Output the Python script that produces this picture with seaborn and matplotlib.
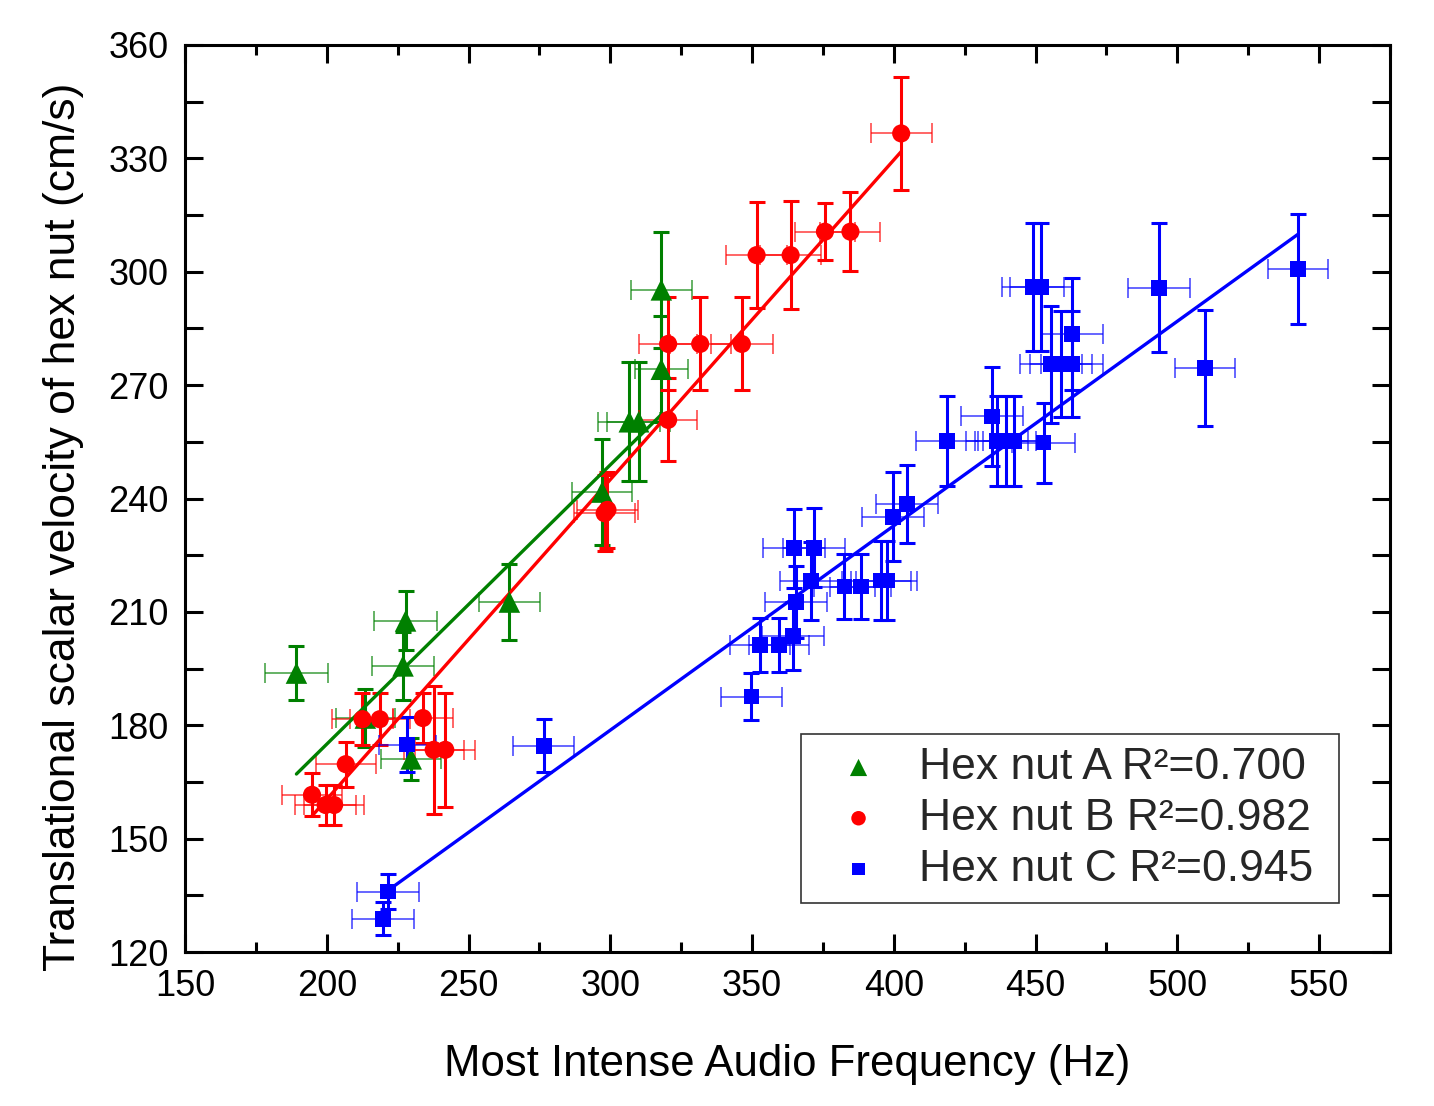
import numpy as np
import pandas as pd
import matplotlib
matplotlib.use("Agg")
import matplotlib.pyplot as plt
from matplotlib.ticker import MultipleLocator
import seaborn as sns

# ---------------- data ----------------
a_x = [189.3, 213.6, 226.9, 227.8, 229.8, 264.4, 297.1, 306.7, 310.0, 318.0, 318.0]
a_y = [193.8, 181.9, 195.7, 207.6, 171.1, 212.6, 241.7, 260.3, 260.3, 274.2, 295.2]
a_xerr = [11.0, 10.5, 11.0, 11.0, 10.5, 10.7, 10.7, 11.0, 11.0, 9.4, 10.8]
a_yerr = [7.2, 7.7, 9.0, 7.8, 5.5, 10.0, 14.0, 15.7, 15.7, 14.0, 15.3]

b_x = [194.8, 199.6, 202.6, 206.7, 212.6, 218.7, 233.9, 237.7, 241.8, 298.0,
       299.0, 320.4, 320.4, 331.7, 346.4, 351.6, 363.6, 375.7, 384.7, 402.6]
b_y = [161.6, 158.9, 158.9, 169.7, 181.6, 181.6, 181.9, 173.5, 173.5, 236.1,
       237.0, 260.8, 280.9, 280.9, 280.9, 304.4, 304.4, 310.6, 310.6, 336.6]
b_xerr = [10.7, 10.7, 10.7, 10.6, 10.6, 10.6, 10.6, 10.6, 10.6, 10.7,
          10.7, 10.2, 10.2, 10.7, 11.0, 10.7, 10.7, 10.6, 10.6, 10.7]
b_yerr = [5.7, 5.4, 5.4, 6.0, 6.9, 6.9, 6.6, 17.0, 15.0, 10.0,
          10.0, 11.0, 12.3, 12.3, 12.3, 14.0, 14.3, 7.5, 10.5, 15.0]

c_x = [219.9, 221.6, 228.4, 276.5, 349.8, 352.7, 359.5, 364.5, 365.6, 364.8,
       371.8, 370.9, 382.6, 388.3, 395.5, 397.5, 399.6, 404.7, 418.8, 434.6,
       436.4, 439.4, 442.3, 452.8, 449.0, 451.8, 455.3, 459.0, 462.8, 462.8,
       493.5, 509.7, 542.6]
c_y = [128.8, 136.0, 174.9, 174.6, 187.6, 201.3, 201.3, 203.7, 212.6, 226.8,
       227.0, 218.2, 216.7, 216.7, 218.3, 218.3, 235.2, 238.5, 255.2, 261.7,
       255.2, 255.2, 255.2, 254.8, 295.9, 295.9, 275.5, 275.5, 275.5, 283.5,
       295.8, 274.6, 300.7]
c_xerr = [10.9, 10.9, 10.0, 10.7, 10.6, 10.6, 10.6, 10.9, 10.9, 10.9,
          10.9, 10.9, 10.7, 10.7, 10.7, 10.7, 10.9, 11.0, 11.0, 11.0,
          10.9, 10.9, 10.9, 11.0, 10.9, 10.9, 10.9, 10.9, 10.9, 10.9,
          10.9, 10.7, 10.7]
c_yerr = [4.4, 4.7, 7.2, 7.1, 6.3, 7.2, 7.2, 9.0, 9.5, 10.5,
          10.5, 10.3, 8.5, 8.5, 10.5, 10.5, 11.7, 10.4, 11.9, 13.2,
          11.8, 11.8, 11.8, 10.6, 17.0, 17.0, 15.5, 14.0, 14.0, 14.8,
          17.0, 15.4, 14.6]

# linear fit lines (slope, intercept)
fit_slope = [0.739, 0.846, 0.541]
fit_intercept = [27.2, -8.8, 16.4]

series_labels = ["Hex nut A R\u00b2=0.700", "Hex nut B R\u00b2=0.982", "Hex nut C R\u00b2=0.945"]
x_label = "Most Intense Audio Frequency (Hz)"
y_label = "Translational scalar velocity of hex nut (cm/s)"

# ---------------- style ----------------
sns.set_theme(style="ticks")
plt.rcParams["font.family"] = ["Liberation Sans", "DejaVu Sans"]

colors = ["#008000", "#ff0000", "#0000ff"]
markers = ["^", "o", "s"]
sizes = [240, 170, 130]

fig = plt.figure(figsize=(14.34, 11.06), dpi=100, facecolor="white")
ax = fig.add_axes([185 / 1434, 1 - 952 / 1106, (1390 - 185) / 1434, (952 - 45) / 1106])
ax.set_facecolor("white")

all_series = [
    (a_x, a_y, a_xerr, a_yerr),
    (b_x, b_y, b_xerr, b_yerr),
    (c_x, c_y, c_xerr, c_yerr),
]

for i, (xs, ys, xe, ye) in enumerate(all_series):
    col = colors[i]
    # horizontal error bars (thin, lighter)
    ax.errorbar(xs, ys, xerr=xe, fmt="none", ecolor=col, elinewidth=1.3,
                capsize=7, capthick=1.3, alpha=0.65, zorder=2)
    # vertical error bars (thicker)
    ax.errorbar(xs, ys, yerr=ye, fmt="none", ecolor=col, elinewidth=2.2,
                capsize=6, capthick=2.2, zorder=2)
    df = pd.DataFrame({"x": xs, "y": ys})
    sns.scatterplot(data=df, x="x", y="y", marker=markers[i], color=col,
                    s=sizes[i], edgecolor="none", linewidth=0, ax=ax,
                    label=series_labels[i], zorder=4)
    xfit = np.array([min(xs), max(xs)])
    fit_df = pd.DataFrame({"x": xfit, "y": fit_slope[i] * xfit + fit_intercept[i]})
    sns.lineplot(data=fit_df, x="x", y="y", color=col, linewidth=2.4, ax=ax,
                 zorder=3, legend=False)

ax.set_xlim(150, 575)
ax.set_ylim(120, 360)
ax.xaxis.set_major_locator(MultipleLocator(50))
ax.xaxis.set_minor_locator(MultipleLocator(25))
ax.yaxis.set_major_locator(MultipleLocator(30))
ax.yaxis.set_minor_locator(MultipleLocator(15))

for s in ax.spines.values():
    s.set_visible(True)
    s.set_linewidth(2.2)
    s.set_color("black")

ax.tick_params(axis="both", which="both", direction="in", top=True, right=True,
               colors="black", width=2.2)
ax.tick_params(axis="x", which="major", length=13, labelsize=26, pad=12)
ax.tick_params(axis="x", which="minor", length=7)
ax.tick_params(axis="y", which="major", length=13, labelsize=26, pad=12)
ax.tick_params(axis="y", which="minor", length=13)

ax.set_xlabel(x_label, fontsize=31.5, labelpad=29, color="black")
ax.set_ylabel(y_label, fontsize=32, color="black")
ax.yaxis.set_label_coords(-0.084, 0.4686)

leg = ax.legend(loc="lower left", bbox_to_anchor=(0.511, 0.054, 0.447, 0.19),
                mode="expand", fontsize=32,
                frameon=True, fancybox=False, framealpha=1, edgecolor="#333333",
                markerscale=0.8, handlelength=2.0, handletextpad=0.35,
                labelspacing=0.22, borderpad=0.3, borderaxespad=0)
leg.get_frame().set_linewidth(1.2)

fig.savefig("out.png", dpi=100, facecolor="white")
